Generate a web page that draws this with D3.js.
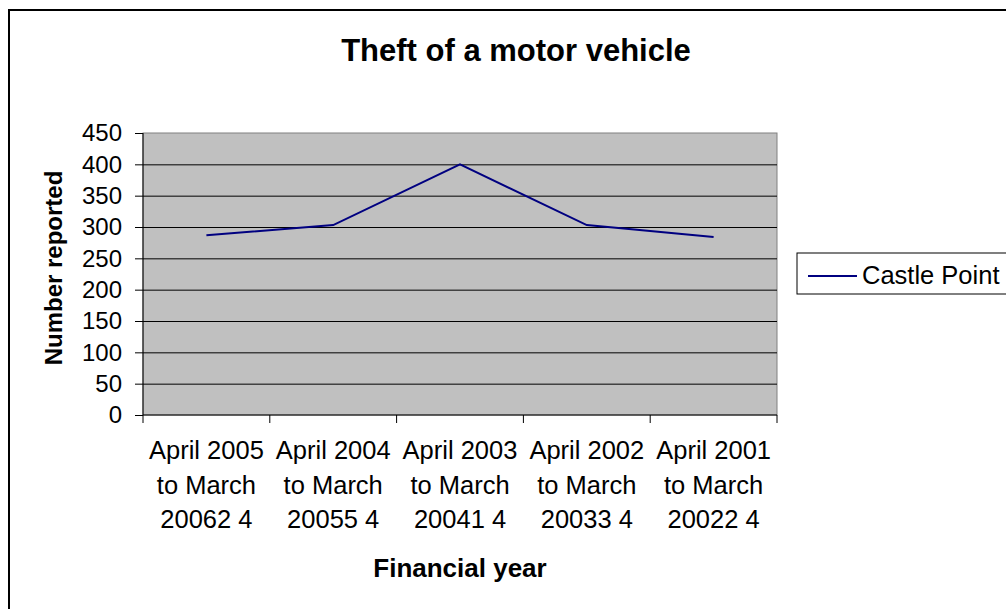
<!DOCTYPE html>
<html>
<head>
<meta charset="utf-8">
<script src="https://cdn.jsdelivr.net/npm/d3@7"></script>
<style>
  body { margin: 0; background: #fff; }
  svg { display: block; font-family: Arial, "Liberation Sans", sans-serif; }
  .catLabel { font-size: 25.5px; fill: #000; }
</style>
</head>
<body>
<div id="chart"></div>
<script>

// data
const categories = [
  ["April 2005", "to March", "20062 4"],
  ["April 2004", "to March", "20055 4"],
  ["April 2003", "to March", "20041 4"],
  ["April 2002", "to March", "20033 4"],
  ["April 2001", "to March", "20022 4"],
]
const castlePoint = [287, 303, 400, 303, 284]
const yTicks = [0, 50, 100, 150, 200, 250, 300, 350, 400, 450]
const seriesName = "Castle Point"

const width = 1006
const height = 609

const plot = { left: 143, top: 133, right: 777, bottom: 415 }

const svg = d3.select('#chart').append('svg').attr("width", width).attr("height", height)

// outer chart border (runs off the right / bottom edge like the original)
svg.append('rect')
  .attr("x", 9).attr("y", 10)
  .attr("width", 1010).attr("height", 620)
  .attr("fill", "#fff")
  .attr("stroke", "#000")
  .attr("stroke-width", 2)

const xScale = d3.scaleBand().domain(d3.range(categories.length)).range([plot.left, plot.right])
const yScale = d3.scaleLinear().domain([0, 450]).range([plot.bottom, plot.top])

// plot area
svg.append('rect')
  .attr("x", plot.left).attr("y", plot.top)
  .attr("width", plot.right - plot.left).attr("height", plot.bottom - plot.top)
  .attr("fill", "#c0c0c0")
  .attr("stroke", "#808080")
  .attr("stroke-width", 1)

// gridlines
svg.append('g')
  .attr("transform", `translate(${plot.left},0)`)
  .call(d3.axisLeft(yScale).tickValues(yTicks.filter(d => d > 0 && d < 450)).tickSize(-(plot.right - plot.left)).tickFormat(""))
  .call(g => g.select(".domain").remove())
  .selectAll("line").attr("stroke", "#000").attr("stroke-width", 1)

// y axis
const yAxis = svg.append('g')
  .attr("transform", `translate(${plot.left},0)`)
  .call(d3.axisLeft(yScale).tickValues(yTicks).tickSize(8).tickPadding(13))
yAxis.select(".domain").attr("stroke", "#000").attr("d", `M0,${plot.top}V${plot.bottom}`)
yAxis.selectAll("line").attr("stroke", "#000")
yAxis.selectAll("text").attr("font-size", 24).attr("fill", "#000").attr("font-family", "Arial, 'Liberation Sans', sans-serif")

// x axis line + boundary ticks
svg.append('line')
  .attr("x1", plot.left).attr("x2", plot.right)
  .attr("y1", plot.bottom).attr("y2", plot.bottom)
  .attr("stroke", "#000").attr("stroke-width", 1)

const boundaries = xScale.domain().map(i => xScale(i)).concat([xScale.range()[1]])
svg.selectAll('line.xtick')
  .data(boundaries)
  .enter()
  .append('line')
  .attr("class", "xtick")
  .attr("x1", d => d).attr("x2", d => d)
  .attr("y1", plot.bottom).attr("y2", plot.bottom + 8)
  .attr("stroke", "#000")

// category labels (three lines each)
const catG = svg.selectAll('g.cat')
  .data(categories)
  .enter()
  .append('g')
  .attr("class", "cat")
  .attr("transform", (d, i) => `translate(${xScale(i) + xScale.bandwidth() / 2},459)`)

catG.selectAll('text')
  .data(d => d)
  .enter()
  .append('text')
  .attr("class", "catLabel")
  .attr("text-anchor", "middle")
  .attr("y", (d, i) => i * 34.5)
  .text(d => d)

// series line
const lineGenerator = d3.line()
  .x((d, i) => xScale(i) + xScale.bandwidth() / 2)
  .y(d => yScale(d))

svg.append('path')
  .datum(castlePoint)
  .attr("d", lineGenerator)
  .attr("fill", "none")
  .attr("stroke", "#000080")
  .attr("stroke-width", 2)

// titles
svg.append('text')
  .attr("x", 516).attr("y", 61)
  .attr("text-anchor", "middle")
  .attr("font-size", 31).attr("font-weight", "bold")
  .text("Theft of a motor vehicle")

svg.append('text')
  .attr("transform", "translate(62,268) rotate(-90)")
  .attr("text-anchor", "middle")
  .attr("font-size", 24).attr("font-weight", "bold")
  .text("Number reported")

svg.append('text')
  .attr("x", (plot.left + plot.right) / 2).attr("y", 577)
  .attr("text-anchor", "middle")
  .attr("font-size", 26).attr("font-weight", "bold")
  .text("Financial year")

// legend
const legend = svg.append('g').attr("transform", "translate(797,253)")
legend.append('rect')
  .attr("width", 240).attr("height", 41)
  .attr("fill", "#fff").attr("stroke", "#000").attr("stroke-width", 1)
legend.append('line')
  .attr("x1", 11).attr("x2", 60)
  .attr("y1", 23).attr("y2", 23)
  .attr("stroke", "#000080").attr("stroke-width", 2)
legend.append('text')
  .attr("x", 65).attr("y", 31)
  .attr("font-size", 25.5)
  .text(seriesName)

</script>
</body>
</html>
